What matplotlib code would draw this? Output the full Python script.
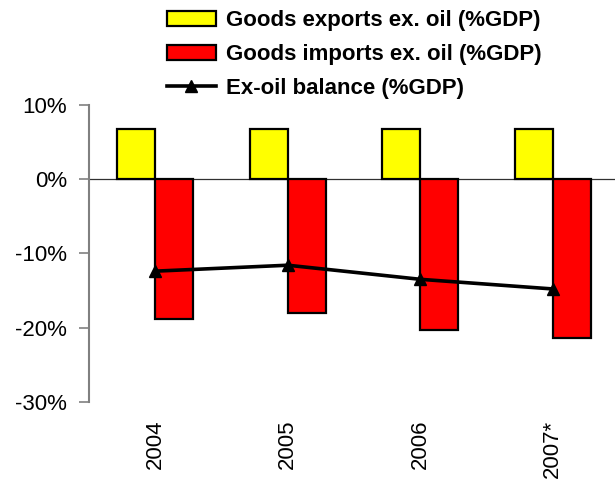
import matplotlib
matplotlib.use("Agg")
import matplotlib.pyplot as plt
from matplotlib.patches import Patch
from matplotlib.lines import Line2D
from matplotlib.ticker import FuncFormatter
import numpy as np

# Data (% of GDP)
years = ["2004", "2005", "2006", "2007*"]
exports_ex_oil = [6.7, 6.7, 6.7, 6.7]
imports_ex_oil = [-18.8, -18.1, -20.4, -21.4]
ex_oil_balance = [-12.4, -11.6, -13.5, -14.8]

labels = ["Goods exports ex. oil (%GDP)",
          "Goods imports ex. oil (%GDP)",
          "Ex-oil balance (%GDP)"]

plt.rcParams["font.family"] = ["Liberation Sans", "DejaVu Sans"]

fig = plt.figure(figsize=(6.15, 4.79), dpi=100)
ax = fig.add_axes([89 / 615, 77.3 / 479, 530 / 615, 296.7 / 479])

x = np.arange(len(years))
w = 0.285
ax.bar(x - w / 2, exports_ex_oil, width=w, color="#FFFF00",
       edgecolor="black", linewidth=1.6, zorder=2)
ax.bar(x + w / 2, imports_ex_oil, width=w, color="#FF0000",
       edgecolor="black", linewidth=1.6, zorder=2)
ax.plot(x, ex_oil_balance, color="black", linewidth=2.6, marker="^",
        markersize=9, zorder=3)

ax.axhline(0, color="#303030", linewidth=0.9, zorder=1)

ax.set_xlim(-0.5, 3.5)
ax.set_ylim(-30, 10)
ax.set_yticks([10, 0, -10, -20, -30])
ax.yaxis.set_major_formatter(FuncFormatter(lambda v, p: f"{v:.0f}%"))

for s in ("top", "right", "bottom"):
    ax.spines[s].set_visible(False)
ax.spines["left"].set_color("#808080")
ax.spines["left"].set_linewidth(1.5)

ax.tick_params(axis="y", direction="out", length=7, width=1.2,
               color="#808080", labelsize=16, pad=9)
ax.set_xticks(x)
ax.set_xticklabels(years, rotation=90)
ax.tick_params(axis="x", length=0, labelsize=16, pad=13)

handles = [
    Patch(facecolor="#FFFF00", edgecolor="black", linewidth=1.6),
    Patch(facecolor="#FF0000", edgecolor="black", linewidth=1.6),
    Line2D([], [], color="black", linewidth=2.6, marker="^", markersize=9),
]
fig.legend(handles, labels, loc="upper left",
           bbox_to_anchor=(166.7 / 615, 1 - 10 / 479),
           frameon=False, borderpad=0, borderaxespad=0,
           prop={"weight": "bold", "size": 16},
           handlelength=2.2, handleheight=0.65, handletextpad=0.45,
           labelspacing=0.58)

fig.savefig("out.png", dpi=100)
